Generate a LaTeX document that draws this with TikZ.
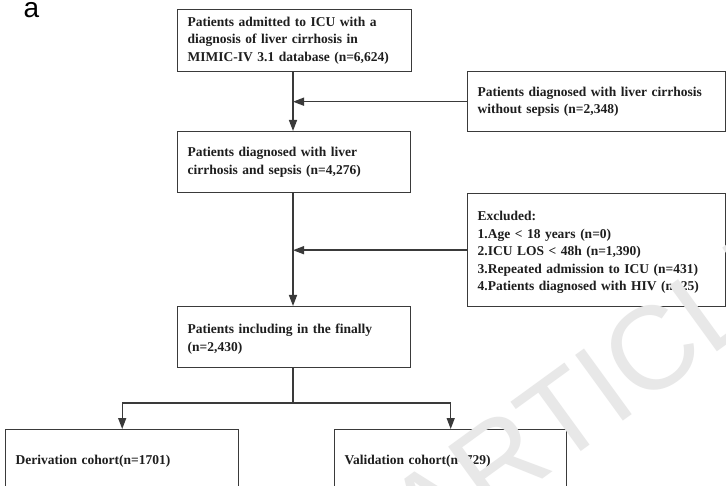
\documentclass[tikz,border=0pt]{standalone}
\usepackage{fontspec}
\setmainfont{Liberation Serif}
\newfontfamily\labelfont{Liberation Sans}
\usetikzlibrary{arrows.meta}
\definecolor{linec}{HTML}{3A3A3A}
\definecolor{textc}{HTML}{1E1E1E}
\definecolor{wmark}{HTML}{E8E8E8}
\tikzset{
  box/.style={draw=linec, line width=1.4pt, anchor=north west, inner xsep=10pt, inner ysep=0pt,
    align=left, text=textc, font=\fontsize{13.5}{17.6}\selectfont\bfseries},
  arr/.style={draw=linec, line width=1.4pt, -{Triangle[length=11pt,width=8pt]}},
  plain/.style={draw=linec, line width=1.4pt},
}
\begin{document}
\begin{tikzpicture}[x=1pt,y=-1pt]
\useasboundingbox (0,0) rectangle (726,486);
\fill[white] (0,0) rectangle (726,486);

\node[anchor=base west, font=\labelfont\fontsize{28}{28}\selectfont] (lbl) at (20,18) {a};

\node[box, text width=214pt, minimum height=62pt] (b1) at (177,9)
  {Patients admitted to ICU with a\\diagnosis of liver cirrhosis in\\MIMIC-IV 3.1 database (n=6,624)};
\node[box, text width=213pt, minimum height=61pt] (b2) at (177,131)
  {Patients diagnosed with liver\\cirrhosis and sepsis (n=4,276)};
\node[box, text width=238pt, minimum height=60pt] (s1) at (467,71)
  {Patients diagnosed with liver cirrhosis\\without sepsis (n=2,348)};
\node[box, text width=238pt, minimum height=113pt] (ex) at (467,193)
  {\rule{0pt}{14pt}Excluded:\\1.Age {<} 18 years (n=0)\\2.ICU LOS {<} 48h (n=1,390)\\3.Repeated admission to ICU (n=431)\\4.Patients diagnosed with HIV (n=25)};
\node[box, text width=213pt, minimum height=61pt] (b3) at (177,306)
  {\rule{0pt}{13pt}Patients including in the finally\\(n=2,430)};
\node[box, text width=213pt, minimum height=64pt] (d) at (5,429)
  {Derivation cohort(n=1701)};
\node[box, text width=212pt, minimum height=64pt] (v) at (334,429)
  {Validation cohort(n=729)};

\coordinate (spine) at (293,0);
\coordinate (split) at (293,403);

\draw[arr] (b1.south -| spine) -- (b2.north -| spine);
\draw[arr] (s1.west) -- (s1.west -| spine);
\draw[arr] (b2.south -| spine) -- (b3.north -| spine);
\draw[arr] (ex.west) -- (ex.west -| spine);
\draw[plain] (b3.south -| spine) -- (split);
\draw[arr] (split) -| (d.north);
\draw[arr] (split) -| (v.north);

\node[rotate=36, text=wmark, font=\labelfont\fontsize{118}{118}\selectfont] (wm) at (602,386) {ARTICLE};
\end{tikzpicture}
\end{document}
